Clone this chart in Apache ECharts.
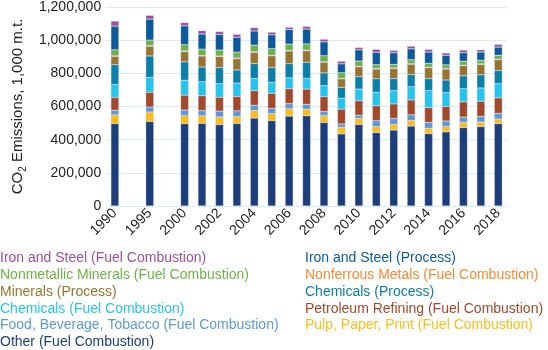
<!DOCTYPE html>
<html>
<head>
<meta charset="utf-8">
<script src="https://cdn.jsdelivr.net/npm/echarts@6/dist/echarts.min.js"></script>
<style>
  html, body { margin: 0; padding: 0; background: #fff; }
  #chart { width: 548px; height: 350px; }
</style>
</head>
<body>
<div id="chart"></div>
<script>
// x slots: a blank spacer sits between 1990, 1995 and 2000
var categories = ['1990', '', '1995', '', '2000', '2001', '2002', '2003', '2004', '2005', '2006',
  '2007', '2008', '2009', '2010', '2011', '2012', '2013', '2014', '2015', '2016', '2017', '2018'];

// values per year (1990, 1995, 2000 ... 2018), 1,000 m.t.
var otherFuel = [497000, 510000, 497000, 498000, 491000, 498000, 530000, 515000, 542000, 544000, 504000,
  435000, 492000, 443000, 458000, 482000, 437000, 447000, 473000, 479000, 497000];
var pulpFuel = [52500, 56700, 47800, 46000, 45400, 41800, 46000, 41800, 44200, 39400, 40000,
  40000, 35800, 35800, 34000, 34000, 31600, 32200, 31600, 27500, 27500];
var foodFuel = [28000, 29900, 34000, 31600, 35800, 34000, 31600, 31600, 31600, 29900, 25700,
  19700, 19700, 35800, 35800, 34000, 35800, 33400, 31600, 34000, 34000];
var petroleumFuel = [77600, 89600, 89600, 89600, 83600, 87200, 87800, 91300, 89600, 91900, 89600,
  89600, 87800, 89600, 87800, 89600, 89600, 87800, 91900, 91300, 93700];
var chemicalsFuel = [77600, 89600, 89600, 83600, 81800, 80000, 73400, 65700, 65700, 63300, 65700,
  65700, 69800, 81200, 81200, 79400, 101500, 83600, 79400, 80000, 85400];
var chemicalsProcess = [119400, 129000, 111600, 89600, 97300, 79400, 89600, 89600, 85400, 97900, 77600,
  65700, 75200, 81800, 71600, 73400, 73400, 75800, 77600, 79400, 79400];
var mineralsProcess = [49700, 58000, 61700, 66300, 66300, 68100, 68100, 70500, 76500, 69900, 64500,
  51200, 59100, 58500, 60900, 62700, 65000, 66300, 60900, 62700, 65000];
var nonferrousFuel = [4000, 4000, 4000, 3500, 3500, 3500, 3500, 3500, 3500, 3500, 3000,
  2500, 3000, 3000, 3000, 3000, 3000, 3000, 3000, 3000, 3000];
var nonmetallicFuel = [35800, 33400, 37600, 37600, 35800, 35800, 40000, 39400, 37600, 37600, 35800,
  34000, 31600, 23900, 22100, 23900, 23900, 22100, 23900, 22100, 23900];
var ironSteelProcess = [143300, 126600, 113400, 91300, 93700, 89600, 85400, 83600, 87800, 89600, 83600,
  53700, 67500, 74000, 69300, 65700, 67500, 57900, 51300, 49600, 49600];
var ironSteelFuel = [29900, 22700, 19700, 20300, 17900, 17900, 20300, 16100, 13700, 16100, 16100,
  16100, 14300, 17900, 14300, 16100, 16100, 13700, 16100, 13700, 16100];

var yTicks = [0, 200000, 400000, 600000, 800000, 1000000, 1200000];

// bottom of the stack first
var seriesInfo = [
  { name: 'Other (Fuel Combustion)', data: otherFuel, color: '#1c3f7c' },
  { name: 'Pulp, Paper, Print (Fuel Combustion)', data: pulpFuel, color: '#fdbc16' },
  { name: 'Food, Beverage, Tobacco (Fuel Combustion)', data: foodFuel, color: '#5b9ad6' },
  { name: 'Petroleum Refining (Fuel Combustion)', data: petroleumFuel, color: '#a3492a' },
  { name: 'Chemicals (Fuel Combustion)', data: chemicalsFuel, color: '#23c4ee' },
  { name: 'Chemicals (Process)', data: chemicalsProcess, color: '#0a7fa8' },
  { name: 'Minerals (Process)', data: mineralsProcess, color: '#997430' },
  { name: 'Nonferrous Metals (Fuel Combustion)', data: nonferrousFuel, color: '#f58a32' },
  { name: 'Nonmetallic Minerals (Fuel Combustion)', data: nonmetallicFuel, color: '#6db344' },
  { name: 'Iron and Steel (Process)', data: ironSteelProcess, color: '#0b5a9c' },
  { name: 'Iron and Steel (Fuel Combustion)', data: ironSteelFuel, color: '#9c4f9c' }
];

// spread the 21 yearly values over the slots, leaving spacers empty
function toSlots(values) {
  var out = [];
  var k = 0;
  for (var i = 0; i < categories.length; i++) {
    if (categories[i] === '') {
      out.push('-');
    } else {
      out.push(values[k++]);
    }
  }
  return out;
}

var colorOf = {};
seriesInfo.forEach(function (s) { colorOf[s.name] = s.color; });

function legendItems(names) {
  return names.map(function (n) {
    return { name: n, textStyle: { color: colorOf[n] } };
  });
}

var leftLegend = [
  'Iron and Steel (Fuel Combustion)',
  'Nonmetallic Minerals (Fuel Combustion)',
  'Minerals (Process)',
  'Chemicals (Fuel Combustion)',
  'Food, Beverage, Tobacco (Fuel Combustion)',
  'Other (Fuel Combustion)'
];
var rightLegend = [
  'Iron and Steel (Process)',
  'Nonferrous Metals (Fuel Combustion)',
  'Chemicals (Process)',
  'Petroleum Refining (Fuel Combustion)',
  'Pulp, Paper, Print (Fuel Combustion)'
];

var font = '"Liberation Sans", Arial, sans-serif';

var legendBase = {
  orient: 'vertical',
  top: 251,
  padding: 0,
  itemGap: 2.9,
  itemWidth: 0,
  itemHeight: 14,
  icon: 'none',
  selectedMode: false,
  textStyle: { fontFamily: font, fontSize: 14 }
};

var myChart = echarts.init(document.getElementById('chart'), null, { renderer: 'canvas' });

var option = {
  backgroundColor: '#fff',
  animation: false,
  textStyle: { fontFamily: font },
  grid: { left: 98, right: 41, top: 5, bottom: 144 },
  legend: [
    Object.assign({}, legendBase, { left: -5, data: legendItems(leftLegend) }),
    Object.assign({}, legendBase, { left: 300, data: legendItems(rightLegend) })
  ],
  xAxis: {
    type: 'category',
    data: categories,
    axisLine: { lineStyle: { color: '#d3edf7' } },
    axisTick: { show: false },
    axisLabel: {
      interval: 1,
      rotate: 45,
      margin: 5,
      color: '#222',
      fontSize: 14,
      fontFamily: font
    }
  },
  yAxis: {
    type: 'value',
    min: yTicks[0],
    max: yTicks[yTicks.length - 1],
    interval: yTicks[1] - yTicks[0],
    name: 'CO{sub|2} Emissions, 1,000 m.t.',
    nameLocation: 'middle',
    nameGap: 77,
    nameRotate: 90,
    nameTextStyle: {
      color: '#222',
      fontSize: 15,
      fontFamily: font,
      lineHeight: 20,
      rich: {
        sub: { fontSize: 10, fontFamily: font, color: '#222', verticalAlign: 'bottom', lineHeight: 10 }
      }
    },
    axisLine: { show: false },
    axisTick: { show: false },
    splitLine: { lineStyle: { color: '#d3edf7', width: 1 } },
    axisLabel: {
      margin: 5,
      color: '#222',
      fontSize: 14,
      fontFamily: font,
      formatter: function (v) { return v.toLocaleString('en-US'); }
    }
  },
  series: seriesInfo.map(function (s) {
    return {
      name: s.name,
      type: 'bar',
      stack: 'total',
      barWidth: 8,
      data: toSlots(s.data),
      itemStyle: {
        color: s.color,
        borderColor: 'rgba(200,200,235,0.6)',
        borderWidth: 0.5
      }
    };
  })
};

option && myChart.setOption(option);
</script>
</body>
</html>
